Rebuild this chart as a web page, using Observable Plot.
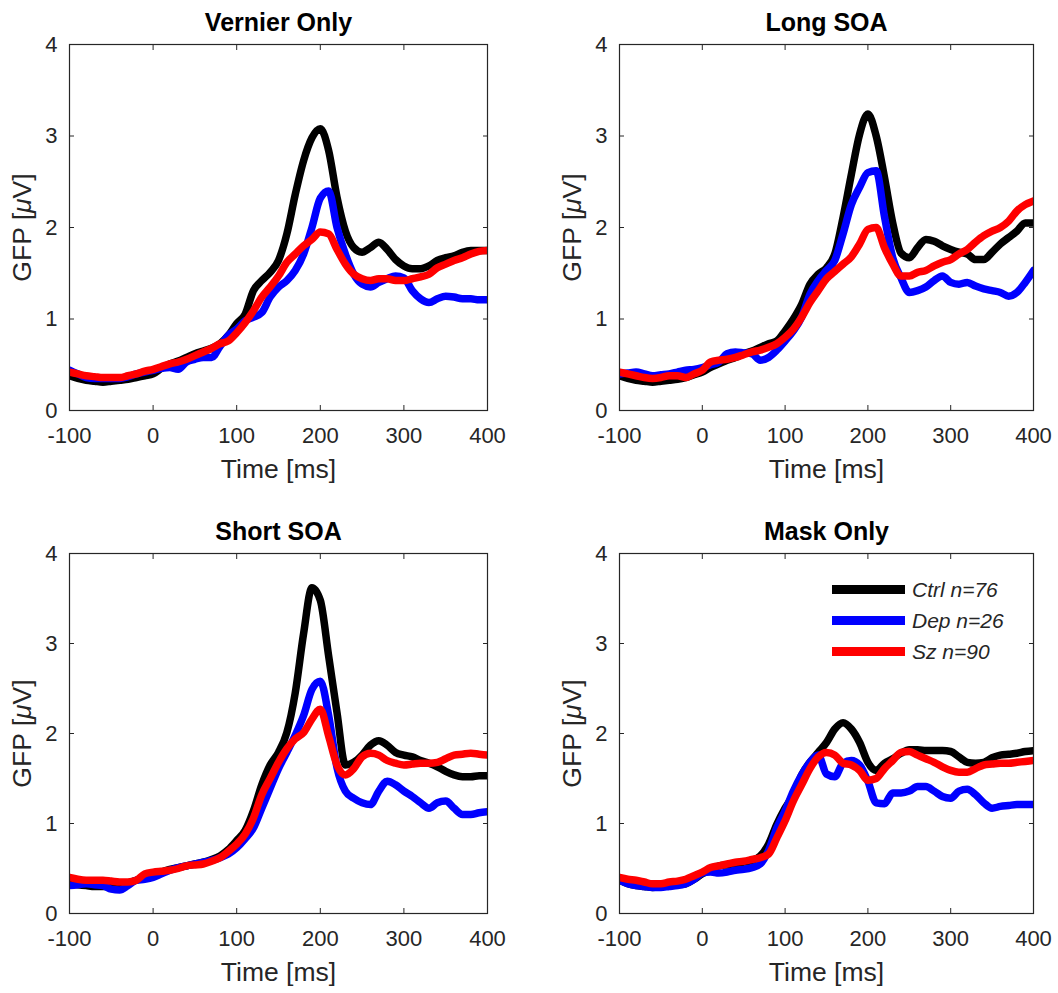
<!DOCTYPE html>
<html><head><meta charset="utf-8">
<script src="https://cdn.jsdelivr.net/npm/d3@7"></script>
<script src="https://cdn.jsdelivr.net/npm/@observablehq/plot@0.6"></script>
<style>
body{margin:0;background:#fff;}
#root{position:relative;width:1058px;height:993px;overflow:hidden;background:#fff;font-family:"Liberation Sans",Arial,sans-serif;}
.panel{position:absolute;}
.panel svg{overflow:visible;}
#legend{position:absolute;left:832px;top:574px;}
#legend .row{display:flex;align-items:center;height:31px;}
#legend .sw{width:73px;height:9px;margin-right:7px;}
#legend .lab{font-style:italic;font-size:21px;color:#262626;white-space:nowrap;}
</style></head><body><div id="root"></div><script>
const timeMs = [-100,-90,-80,-70,-60,-50,-40,-30,-20,-10,0,
  10,20,30,40,50,60,70,80,90,100,
  110,120,130,140,150,160,170,180,190,200,
  210,220,230,240,250,260,270,280,290,300,
  310,320,330,340,350,360,370,380,390,400];

const vernierCtrl = [0.38,0.35,0.33,0.32,0.31,0.32,0.33,0.34,0.36,0.38,0.40,
  0.46,0.51,0.54,0.58,0.62,0.65,0.68,0.73,0.82,0.95,
  1.05,1.31,1.42,1.51,1.64,1.93,2.36,2.73,2.98,3.08,
  2.84,2.33,1.96,1.78,1.73,1.78,1.84,1.76,1.65,1.58,
  1.55,1.55,1.58,1.64,1.67,1.69,1.73,1.75,1.75,1.75];
const vernierDep = [0.44,0.40,0.36,0.35,0.35,0.35,0.35,0.37,0.40,0.42,0.44,
  0.46,0.47,0.45,0.53,0.56,0.58,0.58,0.70,0.82,0.89,
  0.98,1.02,1.07,1.24,1.35,1.42,1.53,1.71,2.00,2.32,
  2.40,2.00,1.71,1.49,1.38,1.35,1.40,1.44,1.47,1.45,
  1.31,1.22,1.18,1.22,1.25,1.24,1.22,1.22,1.21,1.21];
const vernierSz = [0.42,0.40,0.38,0.37,0.36,0.36,0.36,0.38,0.40,0.43,0.45,
  0.48,0.51,0.53,0.56,0.60,0.64,0.68,0.73,0.76,0.85,
  0.96,1.09,1.24,1.35,1.47,1.62,1.71,1.80,1.87,1.95,
  1.93,1.76,1.60,1.49,1.44,1.42,1.44,1.44,1.42,1.42,
  1.44,1.46,1.49,1.56,1.60,1.64,1.67,1.71,1.74,1.75];

const longCtrl = [0.38,0.35,0.33,0.32,0.31,0.32,0.33,0.34,0.36,0.39,0.42,
  0.47,0.51,0.55,0.58,0.62,0.65,0.69,0.73,0.76,0.87,
  1.00,1.16,1.38,1.49,1.56,1.71,2.11,2.58,3.02,3.24,
  3.00,2.55,2.05,1.72,1.67,1.78,1.87,1.85,1.80,1.76,
  1.73,1.71,1.65,1.65,1.73,1.82,1.89,1.96,2.05,2.05];
const longDep = [0.40,0.41,0.42,0.40,0.38,0.39,0.40,0.42,0.44,0.45,0.47,
  0.50,0.53,0.62,0.64,0.63,0.62,0.55,0.58,0.66,0.76,
  0.87,1.02,1.27,1.42,1.53,1.64,1.93,2.25,2.44,2.60,
  2.62,2.12,1.67,1.45,1.29,1.31,1.35,1.42,1.47,1.40,
  1.38,1.40,1.36,1.33,1.31,1.29,1.25,1.29,1.40,1.53];
const longSz = [0.42,0.40,0.38,0.36,0.35,0.36,0.38,0.38,0.36,0.40,0.44,
  0.53,0.55,0.56,0.58,0.61,0.64,0.66,0.69,0.73,0.80,
  0.89,1.02,1.18,1.31,1.44,1.52,1.60,1.68,1.82,1.98,
  2.00,1.78,1.60,1.47,1.47,1.51,1.53,1.58,1.62,1.65,
  1.71,1.76,1.84,1.91,1.96,2.00,2.07,2.18,2.25,2.29];

const shortCtrl = [0.33,0.32,0.31,0.30,0.30,0.30,0.31,0.34,0.37,0.40,0.42,
  0.46,0.49,0.51,0.53,0.55,0.57,0.60,0.64,0.71,0.81,
  0.92,1.14,1.43,1.65,1.79,2.01,2.45,3.11,3.62,3.48,
  2.86,2.23,1.65,1.68,1.76,1.87,1.92,1.87,1.79,1.76,
  1.74,1.70,1.67,1.63,1.58,1.54,1.52,1.52,1.53,1.53];
const shortDep = [0.31,0.32,0.33,0.32,0.31,0.27,0.26,0.31,0.37,0.38,0.40,
  0.44,0.48,0.51,0.53,0.55,0.57,0.59,0.62,0.66,0.73,
  0.83,0.95,1.17,1.39,1.61,1.79,1.98,2.20,2.49,2.58,
  2.20,1.62,1.36,1.28,1.23,1.21,1.36,1.47,1.43,1.36,
  1.30,1.23,1.17,1.23,1.25,1.17,1.10,1.10,1.12,1.13];
const shortSz = [0.40,0.38,0.37,0.37,0.37,0.36,0.35,0.35,0.37,0.44,0.46,
  0.47,0.48,0.50,0.53,0.54,0.55,0.58,0.62,0.69,0.77,
  0.88,1.06,1.32,1.50,1.68,1.83,1.94,2.01,2.16,2.27,
  1.97,1.65,1.54,1.61,1.74,1.78,1.76,1.70,1.67,1.65,
  1.66,1.67,1.67,1.68,1.72,1.76,1.77,1.78,1.77,1.76];

const maskCtrl = [0.37,0.33,0.31,0.30,0.29,0.30,0.31,0.32,0.33,0.38,0.44,
  0.49,0.53,0.54,0.55,0.57,0.59,0.64,0.77,0.99,1.17,
  1.32,1.54,1.68,1.79,1.90,2.05,2.12,2.05,1.90,1.68,
  1.59,1.67,1.72,1.78,1.82,1.82,1.81,1.81,1.81,1.80,
  1.74,1.68,1.67,1.68,1.73,1.76,1.77,1.78,1.80,1.81];
const maskDep = [0.37,0.33,0.31,0.30,0.29,0.29,0.30,0.31,0.33,0.38,0.45,
  0.46,0.45,0.46,0.48,0.49,0.51,0.55,0.70,0.95,1.14,
  1.36,1.54,1.68,1.76,1.55,1.52,1.67,1.70,1.65,1.47,
  1.23,1.22,1.34,1.34,1.36,1.41,1.41,1.36,1.30,1.28,
  1.36,1.38,1.32,1.23,1.17,1.19,1.20,1.21,1.21,1.21];
const maskSz = [0.40,0.38,0.37,0.35,0.33,0.33,0.35,0.36,0.38,0.42,0.46,
  0.51,0.53,0.55,0.57,0.58,0.60,0.62,0.66,0.84,1.03,
  1.25,1.43,1.61,1.74,1.79,1.76,1.67,1.65,1.59,1.48,
  1.50,1.61,1.70,1.79,1.80,1.76,1.72,1.68,1.63,1.59,
  1.57,1.57,1.61,1.65,1.66,1.67,1.67,1.68,1.69,1.70];

const groupNames = ["Ctrl n=76", "Dep n=26", "Sz n=90"];
const groupColors = ["#000000", "#0000ff", "#ff0000"];
const panelTitles = ["Vernier Only", "Long SOA", "Short SOA", "Mask Only"];
const panelSeries = [
  [vernierCtrl, vernierDep, vernierSz],
  [longCtrl, longDep, longSz],
  [shortCtrl, shortDep, shortSz],
  [maskCtrl, maskDep, maskSz]
];
const xTicks = [-100, 0, 100, 200, 300, 400];
const yTicks = [0, 1, 2, 3, 4];
const xLabel = "Time [ms]";
const yLabel = "GFP [μV]";

// layout of each panel's svg (left, top, width, height, margins)
const boxes = [
  {left: 0,   top: 0,   w: 529, h: 496, ml: 69, mr: 42, mt: 44, mb: 86},
  {left: 529, top: 0,   w: 529, h: 496, ml: 90, mr: 25, mt: 44, mb: 86},
  {left: 0,   top: 496, w: 529, h: 497, ml: 69, mr: 42, mt: 57, mb: 80},
  {left: 529, top: 496, w: 529, h: 497, ml: 90, mr: 25, mt: 57, mb: 80}
];

const root = document.getElementById("root");
const FONT = '"Liberation Sans", Arial, Helvetica, sans-serif';

panelTitles.forEach((title, i) => {
  const rows = [];
  panelSeries[i].forEach((arr, g) => {
    arr.forEach((v, k) => rows.push({t: timeMs[k], v, g: groupNames[g]}));
  });
  const b = boxes[i];
  const chart = Plot.plot({
    width: b.w, height: b.h,
    marginLeft: b.ml, marginRight: b.mr, marginTop: b.mt, marginBottom: b.mb,
    x: {domain: [-100, 400]},
    y: {domain: [0, 4]},
    color: {domain: groupNames, range: groupColors},
    style: {fontFamily: FONT, fontSize: "22px", color: "#262626", background: "transparent"},
    marks: [
      Plot.line(rows, {x: "t", y: "v", z: "g", stroke: "g", strokeWidth: 7.5, curve: "monotone-x", strokeLinejoin: "round", clip: true}),
      Plot.frame({stroke: "#262626", strokeWidth: 1.2}),
      Plot.axisX({anchor: "bottom", ticks: xTicks, tickSize: -5, tickPadding: 22, tickFormat: d => String(d),
        label: xLabel, labelAnchor: "center", labelOffset: 67, labelArrow: "none", fontSize: 22}),
      Plot.axisX({anchor: "top", ticks: xTicks, tickSize: -5, tickFormat: () => "", label: null}),
      Plot.axisY({anchor: "left", ticks: yTicks, tickSize: -5, tickPadding: 17, tickFormat: d => String(d),
        label: yLabel, labelAnchor: "center", labelOffset: 57, labelArrow: "none", fontSize: 22}),
      Plot.axisY({anchor: "right", ticks: yTicks, tickSize: -5, tickFormat: () => "", label: null}),
      Plot.text([title], {frameAnchor: "top", dy: -22, lineAnchor: "middle", fontWeight: "bold", fontSize: 25, fill: "#000"})
    ]
  });
  // larger axis titles, italic mu
  chart.querySelectorAll('g[aria-label="x-axis label"], g[aria-label="y-axis label"]').forEach(g => g.setAttribute("font-size", 26.5));
  chart.querySelectorAll("text").forEach(t => {
    if (t.textContent === yLabel) {
      t.innerHTML = 'GFP [<tspan font-style="italic">μ</tspan>V]';
    }
  });
  const div = document.createElement("div");
  div.className = "panel";
  div.style.left = b.left + "px";
  div.style.top = b.top + "px";
  div.appendChild(chart);
  root.appendChild(div);
});

// legend (Mask Only panel)
const legend = document.createElement("div");
legend.id = "legend";
groupNames.forEach((name, i) => {
  const row = document.createElement("div");
  row.className = "row";
  const sw = document.createElement("div");
  sw.className = "sw";
  sw.style.background = groupColors[i];
  const lab = document.createElement("span");
  lab.className = "lab";
  lab.textContent = name;
  row.appendChild(sw); row.appendChild(lab);
  legend.appendChild(row);
});
root.appendChild(legend);
</script></body></html>
